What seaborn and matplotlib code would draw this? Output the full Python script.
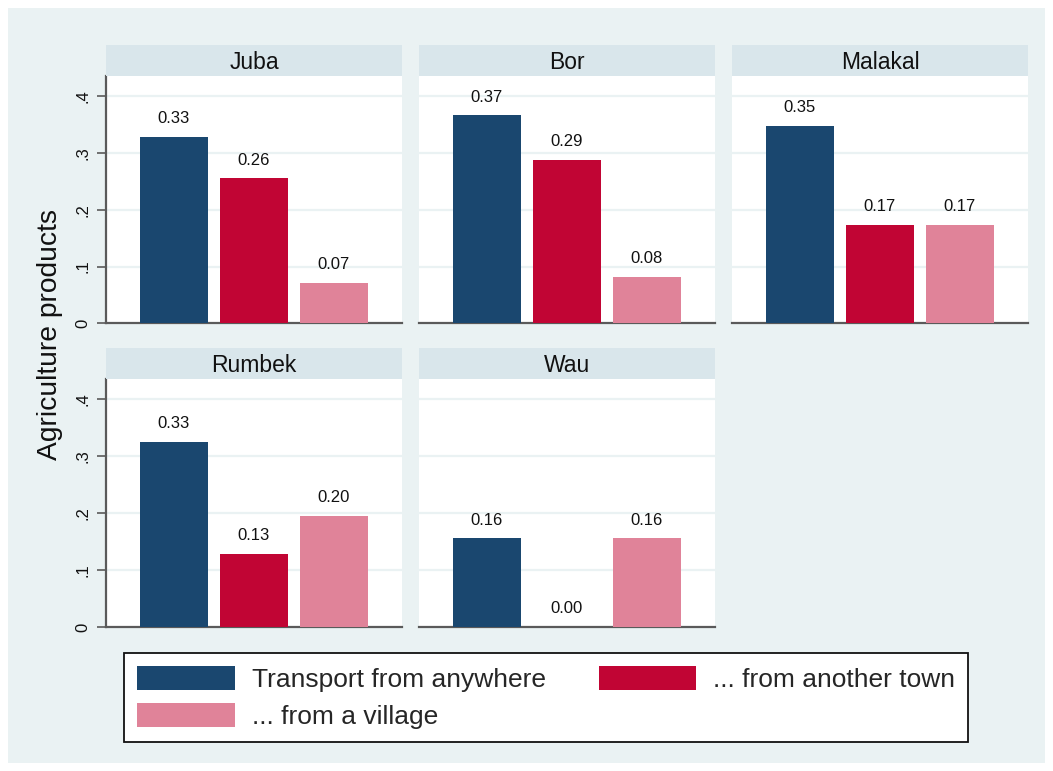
import matplotlib
matplotlib.use("Agg")
import matplotlib.pyplot as plt
from matplotlib.patches import Rectangle, Patch
import pandas as pd
import seaborn as sns

# Values
cities = ["Juba", "Bor", "Malakal", "Rumbek", "Wau"]
series = ["Transport from anywhere", "... from another town", "... from a village"]
from_anywhere = [0.329, 0.367, 0.348, 0.326, 0.156]
from_another_town = [0.256, 0.288, 0.174, 0.129, 0.0]
from_village = [0.071, 0.082, 0.174, 0.196, 0.156]
yticks = [0, 0.1, 0.2, 0.3, 0.4]
ytick_labels = ["0", ".1", ".2", ".3", ".4"]

colors = ["#1a476f", "#c10534", "#e08399"]
BG = "#eaf2f3"
STRIP = "#d9e6eb"
AXIS = "#5a5a5a"


def main():
    sns.set_theme(style="white")
    plt.rcParams["font.family"] = ["Liberation Sans", "DejaVu Sans"]

    rows = []
    for i, c in enumerate(cities):
        for s, vals in zip(series, [from_anywhere, from_another_town, from_village]):
            rows.append({"city": c, "series": s, "value": vals[i]})
    df = pd.DataFrame(rows)

    W, H = 1053, 771
    fig = plt.figure(figsize=(W / 100, H / 100), dpi=100, facecolor="white")
    fig.patches.append(Rectangle((8 / W, 8 / H), 1 - 16 / W, 1 - 16 / H,
                                 transform=fig.transFigure, facecolor=BG,
                                 edgecolor="none", zorder=-10))

    col_x = [106, 419, 732]
    pw = 296
    # (strip top, plot top, plot bottom) in pixels
    row_y = [(45, 76, 323.3), (348, 379, 627)]

    for i, city in enumerate(cities):
        r, c = divmod(i, 3)
        st, pt, pb = row_y[r]
        x0 = col_x[c]
        ax = fig.add_axes([x0 / W, 1 - pb / H, pw / W, (pb - pt) / H])
        sax = fig.add_axes([x0 / W, 1 - pt / H, pw / W, (pt - st) / H])
        sax.set_facecolor(STRIP)
        sax.set_xticks([])
        sax.set_yticks([])
        for sp in sax.spines.values():
            sp.set_visible(False)
        sax.text(0.5, 0.45, city, ha="center", va="center", fontsize=16.5,
                 color="#111111", transform=sax.transAxes)

        sub = df[df["city"] == city]
        sns.barplot(data=sub, x="series", y="value", hue="series", order=series,
                    hue_order=series, palette=colors, width=0.84, legend=False,
                    saturation=1, linewidth=0, ax=ax, zorder=3)
        for j, v in enumerate(sub["value"]):
            ax.annotate(f"{v:.2f}", (j, v), xytext=(0, 13), textcoords="offset points",
                        ha="center", va="center", fontsize=12, color="#111111")

        ax.set_xlim(-0.85, 2.85)
        ax.set_ylim(0, 0.436)
        ax.set_facecolor("white")
        ax.set_xlabel("")
        ax.set_ylabel("")
        ax.set_xticks([])
        ax.set_yticks(yticks)
        for y in yticks[1:]:
            ax.axhline(y, color=BG, lw=1.6, zorder=1)
        ax.grid(False)
        for sp in ["top", "right"]:
            ax.spines[sp].set_visible(False)
        ax.spines["bottom"].set_color(AXIS)
        ax.spines["bottom"].set_linewidth(1.6)
        if c == 0:
            ax.spines["left"].set_color(AXIS)
            ax.spines["left"].set_linewidth(1.6)
            ax.set_yticklabels(ytick_labels, rotation=90, va="center", fontsize=12,
                               color="#111111")
            ax.tick_params(axis="y", left=True, length=6.5, width=1.2, color=AXIS, pad=5)
        else:
            ax.spines["left"].set_visible(False)
            ax.tick_params(axis="y", left=False, labelleft=False)

    fig.text(50 / W, 1 - 334 / H, "Agriculture products", rotation=90,
             ha="center", va="center", fontsize=20.3, color="#111111")

    # legend fills by column; reorder so rows read left to right
    handles = [Patch(facecolor=col, edgecolor="none") for col in colors]
    order = [0, 2, 1]
    leg = fig.legend([handles[k] for k in order], [series[k] for k in order],
                     loc="upper left",
                     bbox_to_anchor=(124 / W, 1 - 653 / H), borderaxespad=0,
                     ncol=2, fontsize=19, frameon=True, fancybox=False,
                     handlelength=3.7, handleheight=1.02, handletextpad=0.64,
                     columnspacing=2.0, labelspacing=0.4, borderpad=0.5)
    frame = leg.get_frame()
    frame.set_edgecolor("#111111")
    frame.set_linewidth(1.3)
    frame.set_facecolor("white")
    frame.set_alpha(1)

    fig.savefig("out.png", dpi=100, facecolor=fig.get_facecolor())
    plt.close(fig)


if __name__ == "__main__":
    main()
